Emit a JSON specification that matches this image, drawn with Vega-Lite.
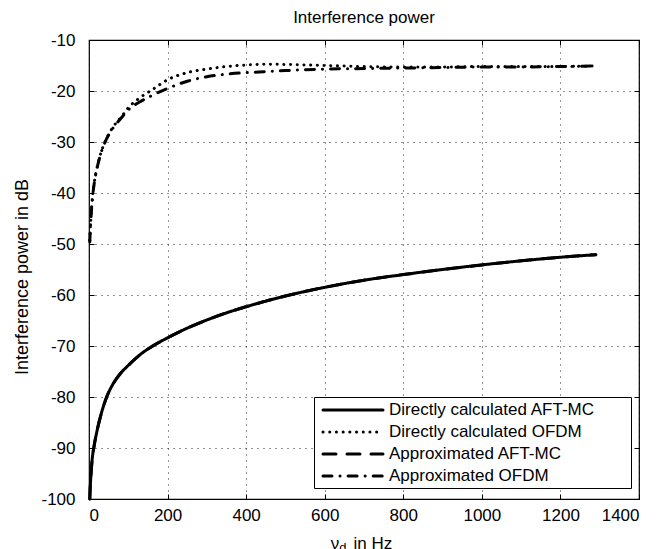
{
  "$schema": "https://vega.github.io/schema/vega-lite/v6.json",
  "autosize": {"type": "none"},
  "padding": {"left": 89, "top": 40, "right": 17, "bottom": 50},
  "width": 550,
  "height": 459,
  "background": "white",
  "title": {"text": "Interference power", "fontSize": 17, "fontWeight": "normal", "font": "Liberation Sans", "color": "black", "offset": 4},
  "config": {
    "font": "Liberation Sans",
    "view": {"stroke": "black", "strokeWidth": 1.2},
    "axis": {
      "labelFontSize": 17, "titleFontSize": 17, "titleFontWeight": "normal",
      "labelColor": "black", "titleColor": "black", "labelFont": "Liberation Sans", "titleFont": "Liberation Sans",
      "domain": false, "tickColor": "black", "tickSize": -5, "tickWidth": 1,
      "gridColor": "black", "gridDash": [1, 5], "gridWidth": 1, "gridOpacity": 0.85,
      "labelExpr": "'' + datum.value"
    }
  },
  "resolve": {"axis": {"x": "independent", "y": "independent"}},
  "datasets": {
    "curves": [
      {"x": 2, "y": -100, "s": "Directly calculated AFT-MC"},
      {"x": 3, "y": -98, "s": "Directly calculated AFT-MC"},
      {"x": 5, "y": -95.3, "s": "Directly calculated AFT-MC"},
      {"x": 8, "y": -92.3, "s": "Directly calculated AFT-MC"},
      {"x": 13, "y": -89.6, "s": "Directly calculated AFT-MC"},
      {"x": 20, "y": -86.8, "s": "Directly calculated AFT-MC"},
      {"x": 30, "y": -83.6, "s": "Directly calculated AFT-MC"},
      {"x": 45, "y": -80.0, "s": "Directly calculated AFT-MC"},
      {"x": 60, "y": -77.6, "s": "Directly calculated AFT-MC"},
      {"x": 80, "y": -75.4, "s": "Directly calculated AFT-MC"},
      {"x": 100, "y": -73.8, "s": "Directly calculated AFT-MC"},
      {"x": 130, "y": -71.7, "s": "Directly calculated AFT-MC"},
      {"x": 160, "y": -70.1, "s": "Directly calculated AFT-MC"},
      {"x": 200, "y": -68.4, "s": "Directly calculated AFT-MC"},
      {"x": 250, "y": -66.5, "s": "Directly calculated AFT-MC"},
      {"x": 300, "y": -64.9, "s": "Directly calculated AFT-MC"},
      {"x": 350, "y": -63.5, "s": "Directly calculated AFT-MC"},
      {"x": 400, "y": -62.3, "s": "Directly calculated AFT-MC"},
      {"x": 450, "y": -61.2, "s": "Directly calculated AFT-MC"},
      {"x": 500, "y": -60.2, "s": "Directly calculated AFT-MC"},
      {"x": 600, "y": -58.5, "s": "Directly calculated AFT-MC"},
      {"x": 700, "y": -57.1, "s": "Directly calculated AFT-MC"},
      {"x": 800, "y": -56.0, "s": "Directly calculated AFT-MC"},
      {"x": 900, "y": -55.0, "s": "Directly calculated AFT-MC"},
      {"x": 1000, "y": -54.1, "s": "Directly calculated AFT-MC"},
      {"x": 1100, "y": -53.3, "s": "Directly calculated AFT-MC"},
      {"x": 1200, "y": -52.6, "s": "Directly calculated AFT-MC"},
      {"x": 1290, "y": -52.1, "s": "Directly calculated AFT-MC"},

      {"x": 2, "y": -49.3, "s": "Directly calculated OFDM"},
      {"x": 3, "y": -47.5, "s": "Directly calculated OFDM"},
      {"x": 5, "y": -44.8, "s": "Directly calculated OFDM"},
      {"x": 7, "y": -42.5, "s": "Directly calculated OFDM"},
      {"x": 10, "y": -40.0, "s": "Directly calculated OFDM"},
      {"x": 15, "y": -37.2, "s": "Directly calculated OFDM"},
      {"x": 20, "y": -35.2, "s": "Directly calculated OFDM"},
      {"x": 30, "y": -32.2, "s": "Directly calculated OFDM"},
      {"x": 40, "y": -30.1, "s": "Directly calculated OFDM"},
      {"x": 60, "y": -27.2, "s": "Directly calculated OFDM"},
      {"x": 83, "y": -25.0, "s": "Directly calculated OFDM"},
      {"x": 100, "y": -23.3, "s": "Directly calculated OFDM"},
      {"x": 130, "y": -21.3, "s": "Directly calculated OFDM"},
      {"x": 160, "y": -19.8, "s": "Directly calculated OFDM"},
      {"x": 200, "y": -17.8, "s": "Directly calculated OFDM"},
      {"x": 250, "y": -16.4, "s": "Directly calculated OFDM"},
      {"x": 300, "y": -15.7, "s": "Directly calculated OFDM"},
      {"x": 350, "y": -15.2, "s": "Directly calculated OFDM"},
      {"x": 400, "y": -14.9, "s": "Directly calculated OFDM"},
      {"x": 450, "y": -14.75, "s": "Directly calculated OFDM"},
      {"x": 500, "y": -14.8, "s": "Directly calculated OFDM"},
      {"x": 600, "y": -15.0, "s": "Directly calculated OFDM"},
      {"x": 700, "y": -15.2, "s": "Directly calculated OFDM"},
      {"x": 800, "y": -15.3, "s": "Directly calculated OFDM"},
      {"x": 900, "y": -15.3, "s": "Directly calculated OFDM"},
      {"x": 1000, "y": -15.2, "s": "Directly calculated OFDM"},
      {"x": 1100, "y": -15.2, "s": "Directly calculated OFDM"},
      {"x": 1200, "y": -15.2, "s": "Directly calculated OFDM"},
      {"x": 1290, "y": -15.1, "s": "Directly calculated OFDM"},

      {"x": 2, "y": -100, "s": "Approximated AFT-MC"},
      {"x": 3, "y": -98, "s": "Approximated AFT-MC"},
      {"x": 5, "y": -95.3, "s": "Approximated AFT-MC"},
      {"x": 8, "y": -92.3, "s": "Approximated AFT-MC"},
      {"x": 13, "y": -89.6, "s": "Approximated AFT-MC"},
      {"x": 20, "y": -86.8, "s": "Approximated AFT-MC"},
      {"x": 30, "y": -83.6, "s": "Approximated AFT-MC"},
      {"x": 45, "y": -80.0, "s": "Approximated AFT-MC"},
      {"x": 60, "y": -77.6, "s": "Approximated AFT-MC"},
      {"x": 80, "y": -75.4, "s": "Approximated AFT-MC"},
      {"x": 100, "y": -73.8, "s": "Approximated AFT-MC"},
      {"x": 130, "y": -71.7, "s": "Approximated AFT-MC"},
      {"x": 160, "y": -70.1, "s": "Approximated AFT-MC"},
      {"x": 200, "y": -68.4, "s": "Approximated AFT-MC"},
      {"x": 250, "y": -66.5, "s": "Approximated AFT-MC"},
      {"x": 300, "y": -64.9, "s": "Approximated AFT-MC"},
      {"x": 350, "y": -63.5, "s": "Approximated AFT-MC"},
      {"x": 400, "y": -62.3, "s": "Approximated AFT-MC"},
      {"x": 450, "y": -61.2, "s": "Approximated AFT-MC"},
      {"x": 500, "y": -60.2, "s": "Approximated AFT-MC"},
      {"x": 600, "y": -58.5, "s": "Approximated AFT-MC"},
      {"x": 700, "y": -57.1, "s": "Approximated AFT-MC"},
      {"x": 800, "y": -56.0, "s": "Approximated AFT-MC"},
      {"x": 900, "y": -55.0, "s": "Approximated AFT-MC"},
      {"x": 1000, "y": -54.1, "s": "Approximated AFT-MC"},
      {"x": 1100, "y": -53.3, "s": "Approximated AFT-MC"},
      {"x": 1200, "y": -52.6, "s": "Approximated AFT-MC"},
      {"x": 1290, "y": -52.1, "s": "Approximated AFT-MC"},

      {"x": 2, "y": -49.6, "s": "Approximated OFDM"},
      {"x": 3, "y": -47.8, "s": "Approximated OFDM"},
      {"x": 5, "y": -45.0, "s": "Approximated OFDM"},
      {"x": 7, "y": -42.6, "s": "Approximated OFDM"},
      {"x": 10, "y": -40.1, "s": "Approximated OFDM"},
      {"x": 15, "y": -37.3, "s": "Approximated OFDM"},
      {"x": 20, "y": -35.3, "s": "Approximated OFDM"},
      {"x": 30, "y": -32.3, "s": "Approximated OFDM"},
      {"x": 40, "y": -30.2, "s": "Approximated OFDM"},
      {"x": 60, "y": -27.4, "s": "Approximated OFDM"},
      {"x": 83, "y": -25.2, "s": "Approximated OFDM"},
      {"x": 100, "y": -23.7, "s": "Approximated OFDM"},
      {"x": 130, "y": -22.1, "s": "Approximated OFDM"},
      {"x": 160, "y": -20.9, "s": "Approximated OFDM"},
      {"x": 200, "y": -19.5, "s": "Approximated OFDM"},
      {"x": 250, "y": -18.1, "s": "Approximated OFDM"},
      {"x": 300, "y": -17.2, "s": "Approximated OFDM"},
      {"x": 350, "y": -16.7, "s": "Approximated OFDM"},
      {"x": 400, "y": -16.4, "s": "Approximated OFDM"},
      {"x": 450, "y": -16.2, "s": "Approximated OFDM"},
      {"x": 500, "y": -16.0, "s": "Approximated OFDM"},
      {"x": 600, "y": -15.7, "s": "Approximated OFDM"},
      {"x": 700, "y": -15.6, "s": "Approximated OFDM"},
      {"x": 800, "y": -15.5, "s": "Approximated OFDM"},
      {"x": 900, "y": -15.4, "s": "Approximated OFDM"},
      {"x": 1000, "y": -15.3, "s": "Approximated OFDM"},
      {"x": 1100, "y": -15.3, "s": "Approximated OFDM"},
      {"x": 1200, "y": -15.2, "s": "Approximated OFDM"},
      {"x": 1290, "y": -15.1, "s": "Approximated OFDM"}
    ],
    "sub": [{"t": "d", "x": 646, "y": -108.4}]
  },
  "layer": [
    {
      "data": {"name": "curves"},
      "mark": {"type": "line", "color": "black", "strokeWidth": 3, "strokeCap": "round", "strokeJoin": "round", "interpolate": "monotone"},
      "encoding": {
        "x": {"field": "x", "type": "quantitative", "scale": {"domain": [0, 1400], "nice": false},
          "axis": {"values": [0, 200, 400, 600, 800, 1000, 1200, 1400], "title": "ν\u00a0\u00a0\u00a0in Hz", "labelPadding": 13, "titleY": 49, "titleX": 272, "titleBaseline": "alphabetic"}},
        "y": {"field": "y", "type": "quantitative", "scale": {"domain": [-100, -10], "nice": false, "zero": false},
          "axis": {"values": [-100, -90, -80, -70, -60, -50, -40, -30, -20, -10], "title": "Interference power in dB", "titleFontSize": 18, "labelPadding": 19, "titlePadding": 9, "titleY": 236.5}},
        "strokeDash": {"field": "s", "type": "nominal",
          "scale": {"domain": ["Directly calculated AFT-MC", "Directly calculated OFDM", "Approximated AFT-MC", "Approximated OFDM"],
                    "range": [[1, 0], [0.1, 6.6], [13, 11], [9, 8, 0.1, 8]]},
          "legend": {"title": "\u00a0", "titleOrient": "right", "titleFontSize": 2, "titlePadding": 32,
            "orient": "none", "legendX": 225, "legendY": 357, "direction": "vertical",
            "symbolType": "M-4,0H4", "symbolSize": 225, "symbolStrokeWidth": 3, "symbolStrokeColor": "black", "symbolOffset": 26,
            "labelFontSize": 17, "labelFont": "Liberation Sans", "labelColor": "black", "labelOffset": 27, "labelLimit": 400,
            "padding": 4, "rowPadding": 5, "strokeColor": "black", "fillColor": "white", "cornerRadius": 0,
            "encode": {
              "symbols": {"update": {"strokeCap": {"value": "round"}}}
            }}
        }
      }
    },
    {
      "data": {"name": "sub"},
      "mark": {"type": "text", "font": "Liberation Sans", "fontSize": 13, "baseline": "top", "align": "center", "color": "black"},
      "encoding": {
        "x": {"field": "x", "type": "quantitative", "scale": {"domain": [0, 1400], "nice": false},
          "axis": {"orient": "top", "values": [0, 200, 400, 600, 800, 1000, 1200, 1400], "labels": false, "title": null, "grid": false, "ticks": true}},
        "y": {"field": "y", "type": "quantitative", "scale": {"domain": [-100, -10], "nice": false, "zero": false},
          "axis": {"orient": "right", "values": [-100, -90, -80, -70, -60, -50, -40, -30, -20, -10], "labels": false, "title": null, "grid": false, "ticks": true}},
        "text": {"field": "t"}
      }
    }
  ]
}
